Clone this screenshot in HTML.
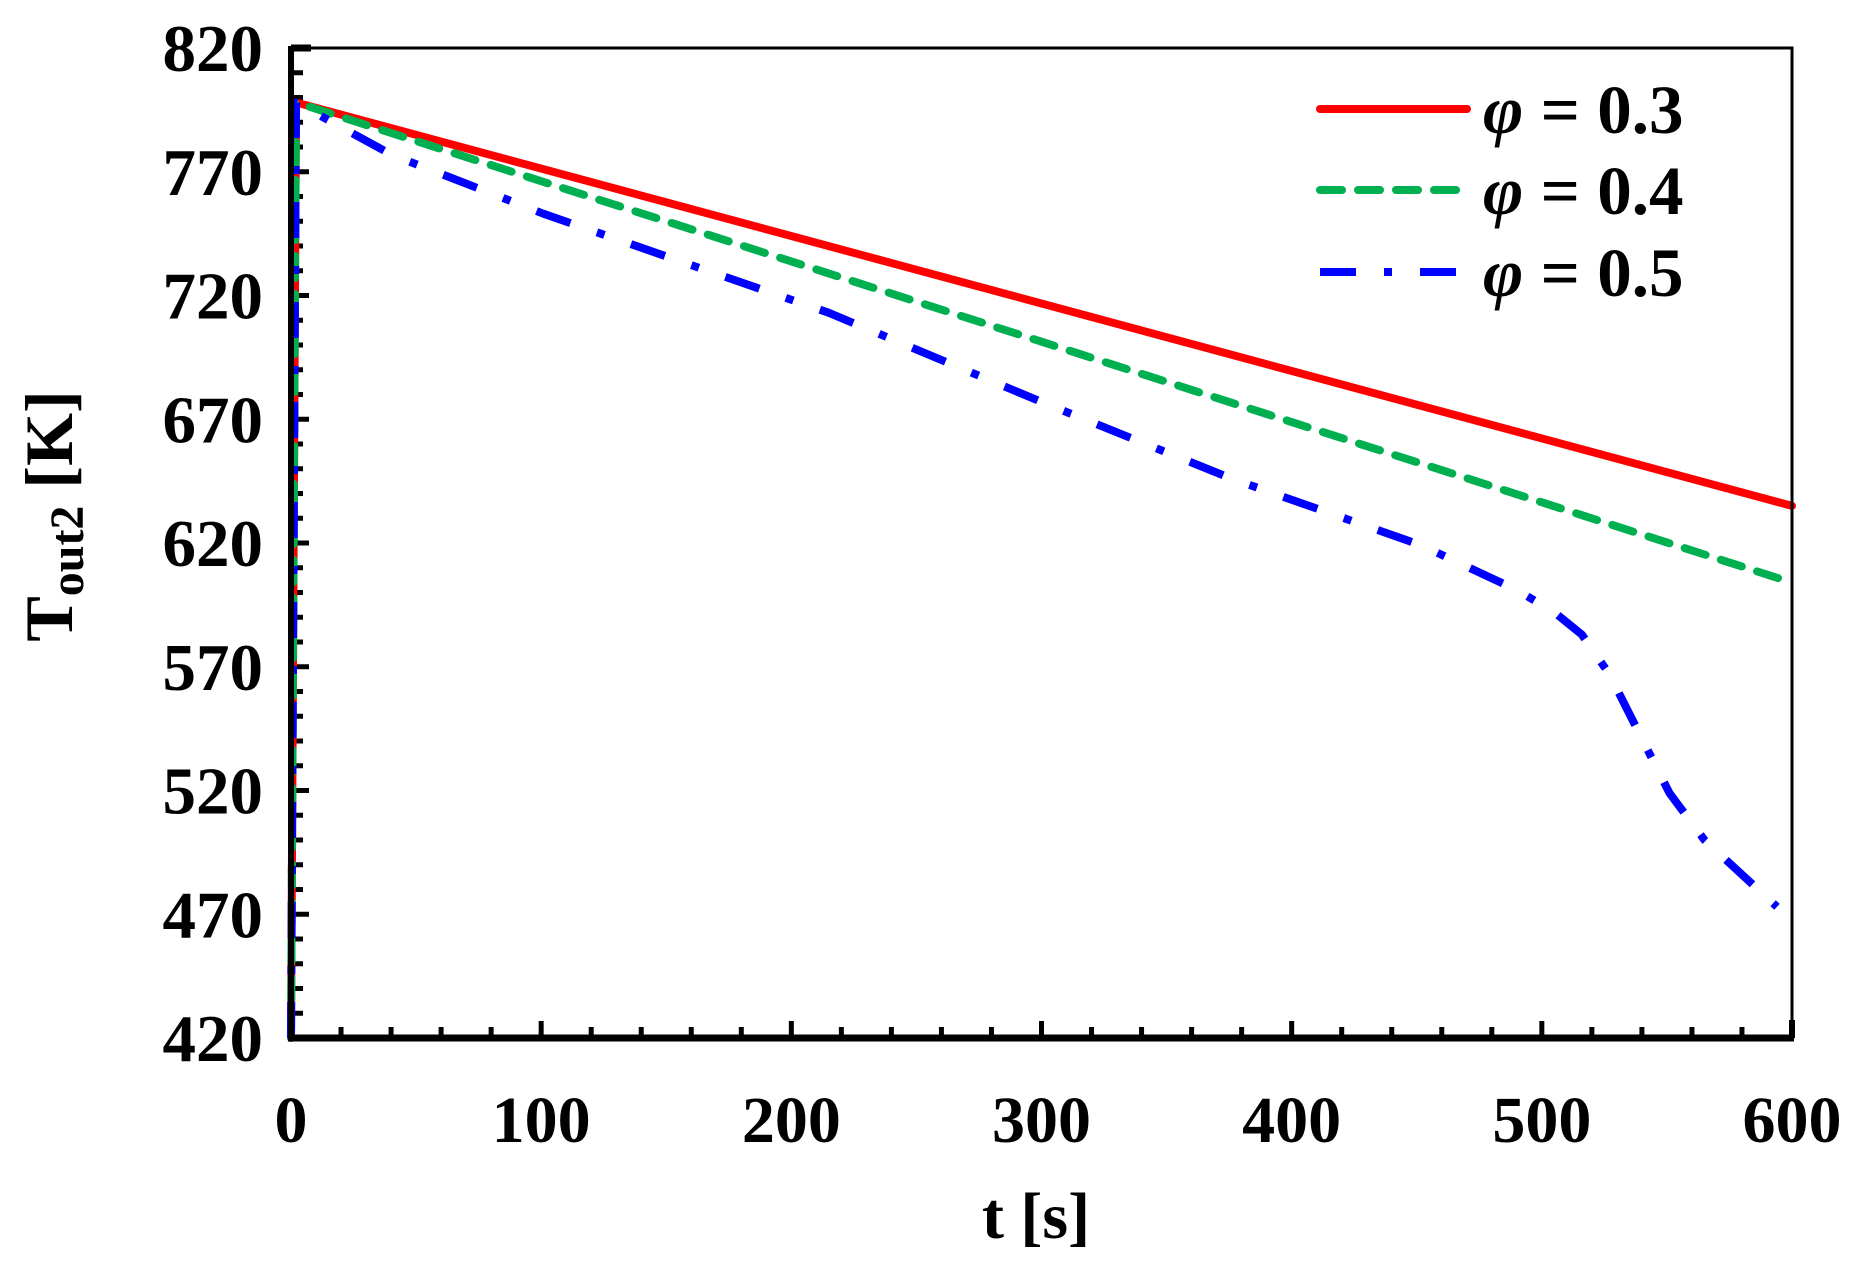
<!DOCTYPE html>
<html><head><meta charset="utf-8"><style>
html,body{margin:0;padding:0;background:#fff;}
svg{display:block;}
text{font-family:"Liberation Serif",serif;font-weight:bold;fill:#000;}
</style></head><body>
<svg id="chart" width="1857" height="1267" viewBox="0 0 1857 1267">
<g id="ticks"></g>
<g id="series"></g>
<g id="axes"></g>
<g id="labels"></g>
<text transform="translate(72,516) rotate(-90)" text-anchor="middle" font-size="68">T<tspan font-size="48" dy="11">out2</tspan><tspan dy="-11"> [K]</tspan></text>
<text x="1036" y="1238" text-anchor="middle" font-size="66">t [s]</text>
<g id="legend"></g>
</svg>
<script>
const xTicks=[0,100,200,300,400,500,600];
const yTicks=[420,470,520,570,620,670,720,770,820];
const seriesNames=["φ = 0.3","φ = 0.4","φ = 0.5"];
const tRed=[0,2,600];
const vRed=[420,798,635];
const tGreen=[0,2,600];
const vGreen=[420,798,604];
const tBlue=[0,2,40,101,215,300,376,452,490,505,516,527,539,551,565,594];
const vBlue=[420,798,777,753,713,677,646,619,601,592,583,567,543,519,500,473];

const NS="http://www.w3.org/2000/svg";
const L=291,R=1792,T=48,B=1038;
const X=t=>L+(t-0)/(600-0)*(R-L);
const Y=v=>B-(v-420)/(820-420)*(B-T);
function mk(tag,attrs,parent){const e=document.createElementNS(NS,tag);for(const k in attrs)e.setAttribute(k,attrs[k]);parent.appendChild(e);return e;}
const ticks=document.getElementById('ticks'),axes=document.getElementById('axes'),labels=document.getElementById('labels'),series=document.getElementById('series'),legend=document.getElementById('legend');
for(let t=0;t<=600;t+=20){const major=t%100===0;const e=mk('line',{x1:X(t),x2:X(t),y1:B,y2:B-(major?17:11),stroke:'#000','stroke-width':5},ticks);

}
for(let v=420;v<=820;v+=10){const major=(v-420)%50===0;const e=mk('line',{x1:L,x2:L+(major?18:12),y1:Y(v),y2:Y(v),stroke:'#000','stroke-width':5},ticks);

}
let e;
e=mk('rect',{x:L,y:T,width:R-L,height:B-T,fill:'none',stroke:'#000','stroke-width':3},axes);


e=mk('line',{x1:L,x2:L,y1:T-2,y2:B+3,stroke:'#000','stroke-width':6},axes);


e=mk('line',{x1:L-3,x2:R+2,y1:B,y2:B,stroke:'#000','stroke-width':7},axes);


e=mk('line',{x1:L,x2:L+20,y1:T,y2:T,stroke:'#000','stroke-width':7},axes);


e=mk('line',{x1:R,x2:R,y1:B,y2:B-18,stroke:'#000','stroke-width':6},axes);


xTicks.forEach(t=>{const el=mk('text',{x:X(t),y:1142,'text-anchor':'middle','font-size':66},labels);el.textContent=t;

});
yTicks.forEach(v=>{const el=mk('text',{x:263,y:Y(v)+23,'text-anchor':'end','font-size':67},labels);el.textContent=v;

});
const styles=[{c:'#ff0000',d:'',cap:'round'},{c:'#00b050',d:'22 16',cap:'round'},{c:'#0000ff',d:'36 28 8 28',cap:'butt'}];
const data=[[tRed,vRed],[tGreen,vGreen],[tBlue,vBlue]];
data.forEach((d,i)=>{const pts=d[0].map((t,j)=>X(t)+','+Y(d[1][j])).join(' ');
const p=mk('polyline',{points:pts,fill:'none',stroke:styles[i].c,'stroke-width':8,'stroke-dasharray':styles[i].d,'stroke-linecap':styles[i].cap,'stroke-linejoin':'round'},series);

});
const ly=[109,190,272];
seriesNames.forEach((n,i)=>{const g=mk('g',{},legend);


mk('line',{x1:1320,x2:1467,y1:ly[i],y2:ly[i],stroke:styles[i].c,'stroke-width':8,'stroke-dasharray':styles[i].d,'stroke-linecap':styles[i].cap},g);
const tx=mk('text',{x:1483,y:ly[i]+24,'font-size':69},g);
const s1=mk('tspan',{'font-style':'italic'},tx);s1.textContent='φ';
const s2=mk('tspan',{},tx);s2.textContent=n.slice(1);});
</script>
</body></html>
